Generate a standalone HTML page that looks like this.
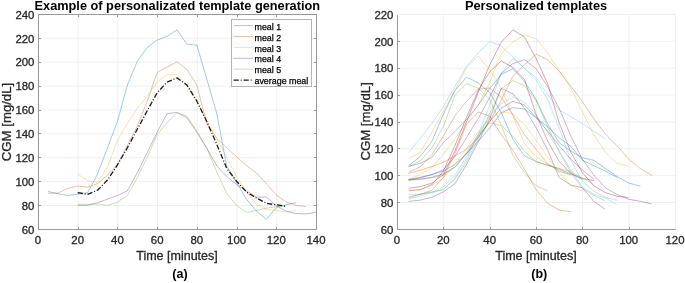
<!DOCTYPE html>
<html><head><meta charset="utf-8"><style>html,body{margin:0;padding:0;background:#fff;overflow:hidden}svg{display:block;will-change:transform} text.r{stroke:#262626;stroke-width:0.3px;paint-order:stroke} text.k{stroke:#000;stroke-width:0.25px;paint-order:stroke}</style></head><body>
<svg width="685" height="283" viewBox="0 0 685 283" font-family="'Liberation Sans', sans-serif">
<rect width="685" height="283" fill="#fff"/>
<line x1="38.40" y1="14" x2="38.40" y2="229" stroke="#f0f0f0" stroke-width="1"/>
<line x1="78.11" y1="14" x2="78.11" y2="229" stroke="#f0f0f0" stroke-width="1"/>
<line x1="117.83" y1="14" x2="117.83" y2="229" stroke="#f0f0f0" stroke-width="1"/>
<line x1="157.54" y1="14" x2="157.54" y2="229" stroke="#f0f0f0" stroke-width="1"/>
<line x1="197.26" y1="14" x2="197.26" y2="229" stroke="#f0f0f0" stroke-width="1"/>
<line x1="236.97" y1="14" x2="236.97" y2="229" stroke="#f0f0f0" stroke-width="1"/>
<line x1="276.69" y1="14" x2="276.69" y2="229" stroke="#f0f0f0" stroke-width="1"/>
<line x1="316.40" y1="14" x2="316.40" y2="229" stroke="#f0f0f0" stroke-width="1"/>
<line x1="38" y1="229.40" x2="316" y2="229.40" stroke="#f0f0f0" stroke-width="1"/>
<line x1="38" y1="205.51" x2="316" y2="205.51" stroke="#f0f0f0" stroke-width="1"/>
<line x1="38" y1="181.62" x2="316" y2="181.62" stroke="#f0f0f0" stroke-width="1"/>
<line x1="38" y1="157.73" x2="316" y2="157.73" stroke="#f0f0f0" stroke-width="1"/>
<line x1="38" y1="133.84" x2="316" y2="133.84" stroke="#f0f0f0" stroke-width="1"/>
<line x1="38" y1="109.96" x2="316" y2="109.96" stroke="#f0f0f0" stroke-width="1"/>
<line x1="38" y1="86.07" x2="316" y2="86.07" stroke="#f0f0f0" stroke-width="1"/>
<line x1="38" y1="62.18" x2="316" y2="62.18" stroke="#f0f0f0" stroke-width="1"/>
<line x1="38" y1="38.29" x2="316" y2="38.29" stroke="#f0f0f0" stroke-width="1"/>
<line x1="38" y1="14.40" x2="316" y2="14.40" stroke="#f0f0f0" stroke-width="1"/>
<line x1="397.40" y1="14" x2="397.40" y2="229" stroke="#f0f0f0" stroke-width="1"/>
<line x1="443.73" y1="14" x2="443.73" y2="229" stroke="#f0f0f0" stroke-width="1"/>
<line x1="490.07" y1="14" x2="490.07" y2="229" stroke="#f0f0f0" stroke-width="1"/>
<line x1="536.40" y1="14" x2="536.40" y2="229" stroke="#f0f0f0" stroke-width="1"/>
<line x1="582.73" y1="14" x2="582.73" y2="229" stroke="#f0f0f0" stroke-width="1"/>
<line x1="629.07" y1="14" x2="629.07" y2="229" stroke="#f0f0f0" stroke-width="1"/>
<line x1="675.40" y1="14" x2="675.40" y2="229" stroke="#f0f0f0" stroke-width="1"/>
<line x1="397" y1="229.40" x2="675" y2="229.40" stroke="#f0f0f0" stroke-width="1"/>
<line x1="397" y1="202.53" x2="675" y2="202.53" stroke="#f0f0f0" stroke-width="1"/>
<line x1="397" y1="175.65" x2="675" y2="175.65" stroke="#f0f0f0" stroke-width="1"/>
<line x1="397" y1="148.78" x2="675" y2="148.78" stroke="#f0f0f0" stroke-width="1"/>
<line x1="397" y1="121.90" x2="675" y2="121.90" stroke="#f0f0f0" stroke-width="1"/>
<line x1="397" y1="95.03" x2="675" y2="95.03" stroke="#f0f0f0" stroke-width="1"/>
<line x1="397" y1="68.15" x2="675" y2="68.15" stroke="#f0f0f0" stroke-width="1"/>
<line x1="397" y1="41.27" x2="675" y2="41.27" stroke="#f0f0f0" stroke-width="1"/>
<line x1="397" y1="14.40" x2="675" y2="14.40" stroke="#f0f0f0" stroke-width="1"/>
<g>
<polyline points="47.93,191.38 57.86,193.76 67.79,195.56 77.71,194.12 87.64,192.57 97.57,174.06 107.50,147.78 117.43,121.50 127.36,85.07 137.29,61.18 147.21,47.44 157.14,40.04 167.07,36.34 177.00,29.89 186.93,44.22 196.86,45.18 206.79,79.10 216.71,113.14 226.64,165.69 236.57,182.42 246.50,199.14 256.43,211.08 266.36,219.44 276.29,207.50 286.21,204.75 296.14,202.72" fill="none" stroke="#0072BD" stroke-width="0.75" stroke-opacity="0.5" stroke-linejoin="round" />
<polyline points="47.93,193.17 57.86,193.17 67.79,188.39 77.71,186.00 87.64,187.19 97.57,183.61 107.50,175.25 117.43,164.50 127.36,145.39 137.29,126.28 147.21,101.19 157.14,72.53 167.07,67.15 177.00,61.78 186.93,69.54 196.86,85.07 206.79,123.89 216.71,138.22 226.64,147.78 236.57,156.74 246.50,165.69 256.43,172.86 266.36,183.61 276.29,194.84 286.21,202.12 296.14,205.35 306.07,206.54" fill="none" stroke="#D95319" stroke-width="0.75" stroke-opacity="0.5" stroke-linejoin="round" />
<polyline points="77.71,174.06 87.64,180.62 97.57,182.42 107.50,166.89 117.43,140.61 127.36,123.29 137.29,108.36 147.21,96.42 157.14,82.08 167.07,74.92 177.00,74.32 186.93,84.47 196.86,100.00 206.79,121.50 216.71,138.22 226.64,157.33 236.57,176.44 246.50,191.97 256.43,204.51 266.36,209.17 276.29,210.49 286.21,212.04 296.14,210.49" fill="none" stroke="#EDB120" stroke-width="0.75" stroke-opacity="0.5" stroke-linejoin="round" />
<polyline points="77.71,205.35 87.64,205.35 97.57,202.72 107.50,199.14 117.43,195.56 127.36,190.78 137.29,172.86 147.21,152.56 157.14,132.25 167.07,113.74 177.00,112.30 186.93,117.92 196.86,132.25 206.79,148.38 216.71,165.69 226.64,176.44 236.57,184.45 246.50,190.78 256.43,197.23 266.36,196.99 276.29,205.71 286.21,211.20 296.14,213.47 306.07,213.95 316.00,212.28" fill="none" stroke="#7E2F8E" stroke-width="0.75" stroke-opacity="0.5" stroke-linejoin="round" />
<polyline points="77.71,204.39 87.64,204.39 97.57,203.92 107.50,205.47 117.43,202.12 127.36,195.56 137.29,177.64 147.21,157.33 157.14,134.64 167.07,122.69 177.00,112.78 186.93,116.12 196.86,131.06 206.79,147.78 216.71,171.67 226.64,193.17 236.57,205.71 246.50,212.28 256.43,210.49 266.36,208.10 276.29,206.78 286.21,205.95" fill="none" stroke="#77AC30" stroke-width="0.75" stroke-opacity="0.5" stroke-linejoin="round" />
<polyline points="77.71,192.57 87.64,194.36 97.57,190.18 107.50,180.03 117.43,164.98 127.36,147.78 137.29,129.26 147.21,110.75 157.14,92.83 167.07,82.08 177.00,77.90 186.93,85.07 196.86,101.19 206.79,121.50 216.71,144.19 226.64,168.08 236.57,181.22 246.50,191.97 256.43,197.94 266.36,203.32 276.29,204.87 286.21,206.19" fill="none" stroke="#000" stroke-width="1.3" stroke-opacity="0.9" stroke-linejoin="round" stroke-dasharray="5.2 1.9 1 1.9"/>
</g>
<polyline points="408.58,188.28 420.17,186.67 431.75,183.25 443.33,174.71 454.92,151.06 466.50,121.80 478.08,92.81 489.67,65.06 501.25,42.22 512.83,29.86 524.42,36.84 536.00,58.34 547.58,83.61 559.17,122.81 570.75,152.13 582.33,172.54 593.92,185.98 605.50,192.50 617.08,196.35 628.67,197.42" fill="none" stroke="#A2142F" stroke-width="0.75" stroke-opacity="0.5" stroke-linejoin="round" />
<polyline points="408.58,179.28 420.17,174.59 431.75,167.68 443.33,154.49 454.92,138.94 466.50,122.03 478.08,105.38 489.67,82.53 501.25,53.37 512.83,41.95 524.42,35.10 536.00,38.72 547.58,52.97 559.17,70.44 570.75,87.91 582.33,112.09 593.92,134.94 605.50,152.41 617.08,163.56 628.67,165.84" fill="none" stroke="#EDB120" stroke-width="0.75" stroke-opacity="0.5" stroke-linejoin="round" />
<polyline points="408.58,152.54 420.17,138.30 431.75,123.43 443.33,106.72 454.92,86.56 466.50,66.41 478.08,52.97 489.67,41.55 501.25,45.85 512.83,57.00 524.42,68.56 536.00,77.56 547.58,94.48 559.17,110.14 570.75,116.37 582.33,123.58 593.92,131.32 605.50,138.97" fill="none" stroke="#4DBEEE" stroke-width="0.75" stroke-opacity="0.5" stroke-linejoin="round" />
<polyline points="408.58,173.37 420.17,170.25 431.75,166.52 443.33,162.22 454.92,156.06 466.50,149.18 478.08,137.62 489.67,121.50 501.25,100.00 512.83,76.35 524.42,64.79 536.00,54.18 547.58,59.69 559.17,71.24 570.75,86.03 582.33,101.59 593.92,119.08 605.50,134.08 617.08,145.83 628.67,159.18 640.25,168.49 651.83,175.25" fill="none" stroke="#D95319" stroke-width="0.75" stroke-opacity="0.5" stroke-linejoin="round" />
<polyline points="408.58,158.32 420.17,152.76 431.75,132.52 443.33,111.36 454.92,90.59 466.50,67.84 478.08,55.93 489.67,69.90 501.25,88.26 512.83,115.66 524.42,143.35 536.00,156.71 547.58,164.47 559.17,169.88 570.75,175.25" fill="none" stroke="#EDB120" stroke-width="0.75" stroke-opacity="0.5" stroke-linejoin="round" />
<polyline points="408.58,180.09 420.17,177.84 431.75,174.57 443.33,169.88 454.92,156.44 466.50,137.62 478.08,118.81 489.67,97.31 501.25,73.66 512.83,63.58 524.42,59.69 536.00,68.56 547.58,86.56 559.17,108.18 570.75,135.82 582.33,159.23 593.92,175.07 605.50,187.92 617.08,194.50 628.67,199.26 640.25,201.32 651.83,203.87" fill="none" stroke="#7E2F8E" stroke-width="0.75" stroke-opacity="0.5" stroke-linejoin="round" />
<polyline points="408.58,199.17 420.17,195.80 431.75,192.71 443.33,189.51 454.92,177.94 466.50,159.12 478.08,134.94 489.67,105.38 501.25,73.12 512.83,58.34 524.42,67.75 536.00,80.25 547.58,99.18 559.17,128.17 570.75,160.07 582.33,181.05 593.92,191.13 605.50,197.28 617.08,200.24" fill="none" stroke="#4DBEEE" stroke-width="0.75" stroke-opacity="0.5" stroke-linejoin="round" />
<polyline points="408.58,172.29 420.17,166.82 431.75,154.95 443.33,136.15 454.92,115.91 466.50,101.34 478.08,89.25 489.67,87.91 501.25,97.31 512.83,114.78 524.42,134.62 536.00,149.34 547.58,163.77 559.17,171.38 570.75,174.58" fill="none" stroke="#D95319" stroke-width="0.75" stroke-opacity="0.5" stroke-linejoin="round" />
<polyline points="408.58,166.38 420.17,163.36 431.75,157.54 443.33,142.72 454.92,131.45 466.50,119.65 478.08,105.38 489.67,88.58 501.25,74.34 512.83,68.85 524.42,81.28 536.00,99.38 547.58,123.71 559.17,142.72 570.75,151.06 582.33,157.73 593.92,160.28 605.50,168.56 617.08,176.54 628.67,183.01 640.25,186.23 640.48,186.27" fill="none" stroke="#0072BD" stroke-width="0.75" stroke-opacity="0.5" stroke-linejoin="round" />
<polyline points="408.58,165.84 420.17,156.51 431.75,141.73 443.33,114.43 454.92,90.46 466.50,77.16 478.08,82.78 489.67,92.37 501.25,112.54 512.83,139.16 524.42,155.83 536.00,161.46 547.58,165.11 559.17,168.94 570.75,173.91 582.33,179.28" fill="none" stroke="#0072BD" stroke-width="0.75" stroke-opacity="0.5" stroke-linejoin="round" />
<polyline points="408.58,166.92 420.17,160.94 431.75,148.14 443.33,126.49 454.92,95.43 466.50,83.75 478.08,88.05 489.67,99.17 501.25,125.15 512.83,155.07 524.42,172.37 536.00,185.74 547.58,190.84" fill="none" stroke="#77AC30" stroke-width="0.75" stroke-opacity="0.5" stroke-linejoin="round" />
<polyline points="408.58,196.75 420.17,194.29 431.75,191.97 443.33,189.48 454.92,179.28 466.50,161.81 478.08,138.97 489.67,113.44 501.25,88.77 512.83,80.69 524.42,85.71 536.00,100.26 547.58,126.73 559.17,151.59 570.75,172.15 582.33,188.69 593.92,195.41 605.04,200.78" fill="none" stroke="#77AC30" stroke-width="0.75" stroke-opacity="0.5" stroke-linejoin="round" />
<polyline points="408.58,201.45 420.17,200.14 431.75,197.29 443.33,191.88 454.92,183.67 466.50,164.50 478.08,142.24 489.67,118.81 501.25,88.28 512.83,93.66 524.42,108.06 536.00,127.44 547.58,149.86 559.17,177.47 570.75,185.06 582.33,187.70 593.92,201.42 605.04,209.25" fill="none" stroke="#7E2F8E" stroke-width="0.75" stroke-opacity="0.5" stroke-linejoin="round" />
<polyline points="408.58,179.82 420.17,179.03 431.75,177.27 443.33,173.91 454.92,167.19 466.50,153.75 478.08,137.62 489.67,121.50 501.25,108.16 512.83,101.40 524.42,104.84 536.00,117.47 547.58,130.91 559.17,145.69 570.75,159.12 582.33,169.88 593.92,179.28" fill="none" stroke="#7E2F8E" stroke-width="0.75" stroke-opacity="0.5" stroke-linejoin="round" />
<polyline points="408.58,194.33 420.17,194.24 431.75,192.34 443.33,186.84 454.92,175.25 466.50,156.44 478.08,134.94 489.67,116.31 501.25,103.50 512.83,97.05 524.42,102.02 536.00,114.78 547.58,132.25 559.17,151.06 570.75,169.83 582.33,187.15 593.92,194.22 605.50,197.90 616.62,204.81" fill="none" stroke="#4DBEEE" stroke-width="0.75" stroke-opacity="0.5" stroke-linejoin="round" />
<polyline points="408.58,179.55 420.17,177.33 431.75,174.60 443.33,171.22 454.92,164.50 466.50,153.75 478.08,141.66 489.67,128.22 501.25,112.81 512.83,107.66 524.42,109.00 536.00,117.47 547.58,126.88 559.17,137.62 570.75,146.16 582.33,160.22 593.92,165.77 605.50,171.14 617.08,177.53" fill="none" stroke="#0072BD" stroke-width="0.75" stroke-opacity="0.5" stroke-linejoin="round" />
<polyline points="408.58,190.70 420.17,189.70 431.75,184.72 443.33,171.22 454.92,145.69 466.50,117.47 478.08,90.59 489.67,71.78 501.25,61.03 512.83,67.35 524.42,79.24 536.00,114.45 547.58,140.87 559.17,161.32 570.75,173.38 582.33,178.46 593.92,180.62" fill="none" stroke="#A2142F" stroke-width="0.75" stroke-opacity="0.5" stroke-linejoin="round" />
<polyline points="408.58,190.17 420.17,190.04 431.75,185.36 443.33,177.94 454.92,164.50 466.50,148.38 478.08,132.25 489.67,118.81 501.25,112.09 512.83,113.44 524.42,124.48 536.00,140.14 547.58,157.00 559.17,172.56 570.75,185.23 582.33,191.38" fill="none" stroke="#EDB120" stroke-width="0.75" stroke-opacity="0.5" stroke-linejoin="round" />
<polyline points="408.58,197.82 420.17,194.27 431.75,190.38 443.33,177.58 454.92,153.75 466.50,124.19 478.08,112.02 489.67,116.26 501.25,134.47 512.83,150.20 524.42,169.20 536.00,189.52 547.58,203.50 559.17,210.05 570.75,211.67" fill="none" stroke="#D95319" stroke-width="0.75" stroke-opacity="0.5" stroke-linejoin="round" />
<polyline points="408.58,180.36 420.17,179.53 431.75,177.94 443.33,175.25 454.92,167.19 466.50,152.41 478.08,134.94 489.67,122.84 501.25,125.53 512.83,136.28 524.42,151.06 536.00,161.71 547.58,165.44 559.17,168.34 570.75,171.82 582.33,177.94 593.92,184.66" fill="none" stroke="#77AC30" stroke-width="0.75" stroke-opacity="0.5" stroke-linejoin="round" />
<line x1="38.5" y1="229.5" x2="38.5" y2="226.9" stroke="#9a9a9a" stroke-width="1"/>
<line x1="38.5" y1="14.5" x2="38.5" y2="17.1" stroke="#9a9a9a" stroke-width="1"/>
<line x1="78.5" y1="229.5" x2="78.5" y2="226.9" stroke="#9a9a9a" stroke-width="1"/>
<line x1="78.5" y1="14.5" x2="78.5" y2="17.1" stroke="#9a9a9a" stroke-width="1"/>
<line x1="117.5" y1="229.5" x2="117.5" y2="226.9" stroke="#9a9a9a" stroke-width="1"/>
<line x1="117.5" y1="14.5" x2="117.5" y2="17.1" stroke="#9a9a9a" stroke-width="1"/>
<line x1="157.5" y1="229.5" x2="157.5" y2="226.9" stroke="#9a9a9a" stroke-width="1"/>
<line x1="157.5" y1="14.5" x2="157.5" y2="17.1" stroke="#9a9a9a" stroke-width="1"/>
<line x1="197.5" y1="229.5" x2="197.5" y2="226.9" stroke="#9a9a9a" stroke-width="1"/>
<line x1="197.5" y1="14.5" x2="197.5" y2="17.1" stroke="#9a9a9a" stroke-width="1"/>
<line x1="237.5" y1="229.5" x2="237.5" y2="226.9" stroke="#9a9a9a" stroke-width="1"/>
<line x1="237.5" y1="14.5" x2="237.5" y2="17.1" stroke="#9a9a9a" stroke-width="1"/>
<line x1="276.5" y1="229.5" x2="276.5" y2="226.9" stroke="#9a9a9a" stroke-width="1"/>
<line x1="276.5" y1="14.5" x2="276.5" y2="17.1" stroke="#9a9a9a" stroke-width="1"/>
<line x1="316.5" y1="229.5" x2="316.5" y2="226.9" stroke="#9a9a9a" stroke-width="1"/>
<line x1="316.5" y1="14.5" x2="316.5" y2="17.1" stroke="#9a9a9a" stroke-width="1"/>
<line x1="38.5" y1="229.5" x2="41.1" y2="229.5" stroke="#9a9a9a" stroke-width="1"/>
<line x1="316.5" y1="229.5" x2="313.9" y2="229.5" stroke="#9a9a9a" stroke-width="1"/>
<line x1="38.5" y1="205.5" x2="41.1" y2="205.5" stroke="#9a9a9a" stroke-width="1"/>
<line x1="316.5" y1="205.5" x2="313.9" y2="205.5" stroke="#9a9a9a" stroke-width="1"/>
<line x1="38.5" y1="181.5" x2="41.1" y2="181.5" stroke="#9a9a9a" stroke-width="1"/>
<line x1="316.5" y1="181.5" x2="313.9" y2="181.5" stroke="#9a9a9a" stroke-width="1"/>
<line x1="38.5" y1="157.5" x2="41.1" y2="157.5" stroke="#9a9a9a" stroke-width="1"/>
<line x1="316.5" y1="157.5" x2="313.9" y2="157.5" stroke="#9a9a9a" stroke-width="1"/>
<line x1="38.5" y1="133.5" x2="41.1" y2="133.5" stroke="#9a9a9a" stroke-width="1"/>
<line x1="316.5" y1="133.5" x2="313.9" y2="133.5" stroke="#9a9a9a" stroke-width="1"/>
<line x1="38.5" y1="110.5" x2="41.1" y2="110.5" stroke="#9a9a9a" stroke-width="1"/>
<line x1="316.5" y1="110.5" x2="313.9" y2="110.5" stroke="#9a9a9a" stroke-width="1"/>
<line x1="38.5" y1="86.5" x2="41.1" y2="86.5" stroke="#9a9a9a" stroke-width="1"/>
<line x1="316.5" y1="86.5" x2="313.9" y2="86.5" stroke="#9a9a9a" stroke-width="1"/>
<line x1="38.5" y1="62.5" x2="41.1" y2="62.5" stroke="#9a9a9a" stroke-width="1"/>
<line x1="316.5" y1="62.5" x2="313.9" y2="62.5" stroke="#9a9a9a" stroke-width="1"/>
<line x1="38.5" y1="38.5" x2="41.1" y2="38.5" stroke="#9a9a9a" stroke-width="1"/>
<line x1="316.5" y1="38.5" x2="313.9" y2="38.5" stroke="#9a9a9a" stroke-width="1"/>
<line x1="38.5" y1="14.5" x2="41.1" y2="14.5" stroke="#9a9a9a" stroke-width="1"/>
<line x1="316.5" y1="14.5" x2="313.9" y2="14.5" stroke="#9a9a9a" stroke-width="1"/>
<line x1="38.5" y1="229.5" x2="316.5" y2="229.5" stroke="#9a9a9a" stroke-width="1"/>
<line x1="38.5" y1="14.5" x2="38.5" y2="229.5" stroke="#9a9a9a" stroke-width="1"/>
<line x1="38.5" y1="14.5" x2="316.5" y2="14.5" stroke="#9a9a9a" stroke-width="1"/>
<line x1="316.5" y1="14.5" x2="316.5" y2="229.5" stroke="#9a9a9a" stroke-width="1"/>
<text x="38.00" y="244" class="r" text-anchor="middle" font-size="11.4" fill="#262626">0</text>
<text x="77.71" y="244" class="r" text-anchor="middle" font-size="11.4" fill="#262626">20</text>
<text x="117.43" y="244" class="r" text-anchor="middle" font-size="11.4" fill="#262626">40</text>
<text x="157.14" y="244" class="r" text-anchor="middle" font-size="11.4" fill="#262626">60</text>
<text x="196.86" y="244" class="r" text-anchor="middle" font-size="11.4" fill="#262626">80</text>
<text x="236.57" y="244" class="r" text-anchor="middle" font-size="11.4" fill="#262626">100</text>
<text x="276.29" y="244" class="r" text-anchor="middle" font-size="11.4" fill="#262626">120</text>
<text x="316.00" y="244" class="r" text-anchor="middle" font-size="11.4" fill="#262626">140</text>
<text x="34.40" y="233.70" class="r" text-anchor="end" font-size="11.4" fill="#262626">60</text>
<text x="34.40" y="209.81" class="r" text-anchor="end" font-size="11.4" fill="#262626">80</text>
<text x="34.40" y="185.92" class="r" text-anchor="end" font-size="11.4" fill="#262626">100</text>
<text x="34.40" y="162.03" class="r" text-anchor="end" font-size="11.4" fill="#262626">120</text>
<text x="34.40" y="138.14" class="r" text-anchor="end" font-size="11.4" fill="#262626">140</text>
<text x="34.40" y="114.26" class="r" text-anchor="end" font-size="11.4" fill="#262626">160</text>
<text x="34.40" y="90.37" class="r" text-anchor="end" font-size="11.4" fill="#262626">180</text>
<text x="34.40" y="66.48" class="r" text-anchor="end" font-size="11.4" fill="#262626">200</text>
<text x="34.40" y="42.59" class="r" text-anchor="end" font-size="11.4" fill="#262626">220</text>
<text x="34.40" y="18.70" class="r" text-anchor="end" font-size="11.4" fill="#262626">240</text>
<line x1="397.5" y1="229.5" x2="397.5" y2="226.9" stroke="#9a9a9a" stroke-width="1"/>
<line x1="443.5" y1="229.5" x2="443.5" y2="226.9" stroke="#9a9a9a" stroke-width="1"/>
<line x1="490.5" y1="229.5" x2="490.5" y2="226.9" stroke="#9a9a9a" stroke-width="1"/>
<line x1="536.5" y1="229.5" x2="536.5" y2="226.9" stroke="#9a9a9a" stroke-width="1"/>
<line x1="582.5" y1="229.5" x2="582.5" y2="226.9" stroke="#9a9a9a" stroke-width="1"/>
<line x1="629.5" y1="229.5" x2="629.5" y2="226.9" stroke="#9a9a9a" stroke-width="1"/>
<line x1="675.5" y1="229.5" x2="675.5" y2="226.9" stroke="#9a9a9a" stroke-width="1"/>
<line x1="397.5" y1="229.5" x2="400.1" y2="229.5" stroke="#9a9a9a" stroke-width="1"/>
<line x1="397.5" y1="202.5" x2="400.1" y2="202.5" stroke="#9a9a9a" stroke-width="1"/>
<line x1="397.5" y1="175.5" x2="400.1" y2="175.5" stroke="#9a9a9a" stroke-width="1"/>
<line x1="397.5" y1="148.5" x2="400.1" y2="148.5" stroke="#9a9a9a" stroke-width="1"/>
<line x1="397.5" y1="122.5" x2="400.1" y2="122.5" stroke="#9a9a9a" stroke-width="1"/>
<line x1="397.5" y1="95.5" x2="400.1" y2="95.5" stroke="#9a9a9a" stroke-width="1"/>
<line x1="397.5" y1="68.5" x2="400.1" y2="68.5" stroke="#9a9a9a" stroke-width="1"/>
<line x1="397.5" y1="41.5" x2="400.1" y2="41.5" stroke="#9a9a9a" stroke-width="1"/>
<line x1="397.5" y1="14.5" x2="400.1" y2="14.5" stroke="#9a9a9a" stroke-width="1"/>
<line x1="397.5" y1="229.5" x2="675.5" y2="229.5" stroke="#9a9a9a" stroke-width="1"/>
<line x1="397.5" y1="14.5" x2="397.5" y2="229.5" stroke="#9a9a9a" stroke-width="1"/>
<text x="397.00" y="244" class="r" text-anchor="middle" font-size="11.4" fill="#262626">0</text>
<text x="443.33" y="244" class="r" text-anchor="middle" font-size="11.4" fill="#262626">20</text>
<text x="489.67" y="244" class="r" text-anchor="middle" font-size="11.4" fill="#262626">40</text>
<text x="536.00" y="244" class="r" text-anchor="middle" font-size="11.4" fill="#262626">60</text>
<text x="582.33" y="244" class="r" text-anchor="middle" font-size="11.4" fill="#262626">80</text>
<text x="628.67" y="244" class="r" text-anchor="middle" font-size="11.4" fill="#262626">100</text>
<text x="675.00" y="244" class="r" text-anchor="middle" font-size="11.4" fill="#262626">120</text>
<text x="393.40" y="233.70" class="r" text-anchor="end" font-size="11.4" fill="#262626">60</text>
<text x="393.40" y="206.82" class="r" text-anchor="end" font-size="11.4" fill="#262626">80</text>
<text x="393.40" y="179.95" class="r" text-anchor="end" font-size="11.4" fill="#262626">100</text>
<text x="393.40" y="153.07" class="r" text-anchor="end" font-size="11.4" fill="#262626">120</text>
<text x="393.40" y="126.20" class="r" text-anchor="end" font-size="11.4" fill="#262626">140</text>
<text x="393.40" y="99.33" class="r" text-anchor="end" font-size="11.4" fill="#262626">160</text>
<text x="393.40" y="72.45" class="r" text-anchor="end" font-size="11.4" fill="#262626">180</text>
<text x="393.40" y="45.58" class="r" text-anchor="end" font-size="11.4" fill="#262626">200</text>
<text x="393.40" y="18.70" class="r" text-anchor="end" font-size="11.4" fill="#262626">220</text>
<line x1="397" y1="14.5" x2="676" y2="14.5" stroke="#f0f0f0" stroke-width="1"/>
<line x1="675.5" y1="14" x2="675.5" y2="229" stroke="#f0f0f0" stroke-width="1"/>
<rect x="231.5" y="19.5" width="80" height="67" fill="#fff" stroke="#b4b4b4" stroke-width="1"/>
<line x1="233.6" y1="25.60" x2="253" y2="25.60" stroke="#0072BD" stroke-width="0.75" stroke-opacity="0.5"/>
<text class="k" x="254.5" y="29.70" font-size="8.9" fill="#000">meal 1</text>
<line x1="233.6" y1="36.50" x2="253" y2="36.50" stroke="#D95319" stroke-width="0.75" stroke-opacity="0.5"/>
<text class="k" x="254.5" y="40.60" font-size="8.9" fill="#000">meal 2</text>
<line x1="233.6" y1="47.40" x2="253" y2="47.40" stroke="#EDB120" stroke-width="0.75" stroke-opacity="0.5"/>
<text class="k" x="254.5" y="51.50" font-size="8.9" fill="#000">meal 3</text>
<line x1="233.6" y1="58.30" x2="253" y2="58.30" stroke="#7E2F8E" stroke-width="0.75" stroke-opacity="0.5"/>
<text class="k" x="254.5" y="62.40" font-size="8.9" fill="#000">meal 4</text>
<line x1="233.6" y1="69.20" x2="253" y2="69.20" stroke="#77AC30" stroke-width="0.75" stroke-opacity="0.5"/>
<text class="k" x="254.5" y="73.30" font-size="8.9" fill="#000">meal 5</text>
<line x1="233.6" y1="80.10" x2="252" y2="80.10" stroke="#000" stroke-width="1.3" stroke-opacity="0.9" stroke-dasharray="5.2 1.9 1 1.9"/>
<text class="k" x="254.5" y="84.20" font-size="8.9" fill="#000">average meal</text>
<text x="177.3" y="9.8" text-anchor="middle" font-size="12.75" font-weight="bold" fill="#000">Example of personalizated template generation</text>
<text x="536.00" y="9.8" text-anchor="middle" font-size="12.8" font-weight="bold" fill="#000">Personalized templates</text>
<text x="177.00" y="259.6" class="r" text-anchor="middle" font-size="12.5" fill="#262626">Time [minutes]</text>
<text x="536.00" y="259.6" class="r" text-anchor="middle" font-size="12.5" fill="#262626">Time [minutes]</text>
<text transform="translate(11.3,122) rotate(-90)" class="r" text-anchor="middle" font-size="13.2" fill="#262626">CGM [mg/dL]</text>
<text transform="translate(369.8,121.4) rotate(-90)" class="r" text-anchor="middle" font-size="13.2" fill="#262626">CGM [mg/dL]</text>
<text x="180" y="278.3" text-anchor="middle" font-size="12.5" font-weight="bold" fill="#000">(a)</text>
<text x="539.3" y="278.3" text-anchor="middle" font-size="12.5" font-weight="bold" fill="#000">(b)</text>
</svg>
</body></html>
